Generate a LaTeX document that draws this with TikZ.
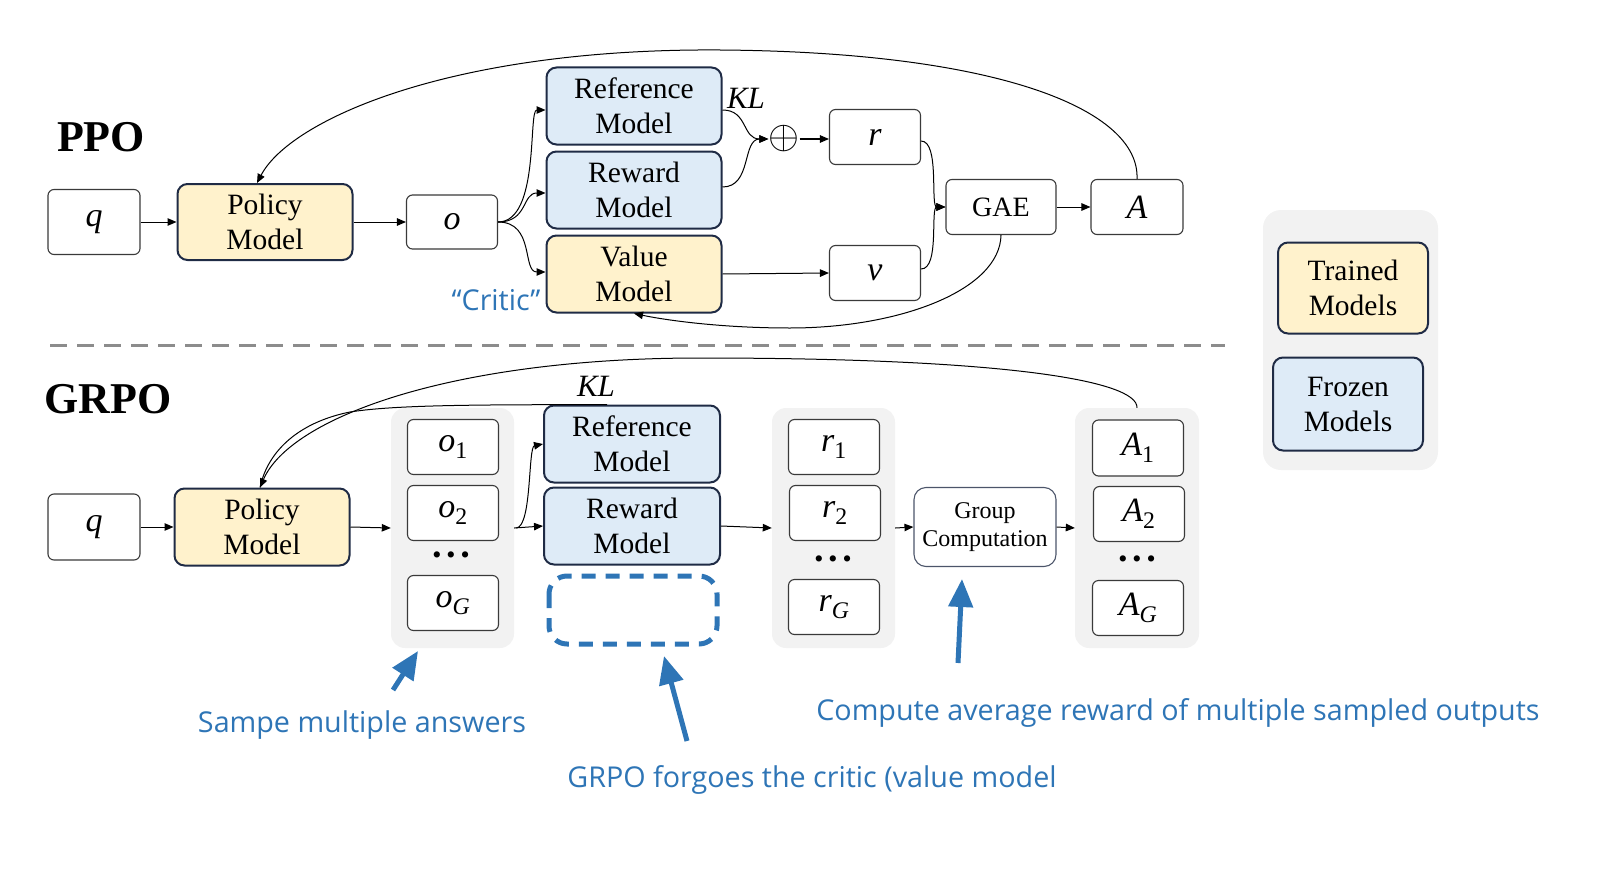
\documentclass[tikz,border=0pt]{standalone}
\usepackage{graphicx}
\usepackage{fontspec}
\setmainfont{Liberation Serif}
\newfontfamily\annfont{Open Sans}
\usetikzlibrary{arrows.meta}
\definecolor{trainfill}{HTML}{FFF2CC}
\definecolor{frozfill}{HTML}{DEEBF7}
\definecolor{navy}{HTML}{1F2B45}
\definecolor{annblue}{HTML}{2E75B6}
\definecolor{panelgray}{HTML}{F2F2F2}
\definecolor{dashgray}{HTML}{8C8C8C}
\definecolor{boxgray}{HTML}{3A3A3A}
\newcommand\modelfs{\fontsize{29.5}{35}\selectfont}
\newcommand\lettfs{\fontsize{34}{34}\selectfont\itshape}
\newcommand\annfs{\annfont\fontsize{28.7}{32}\selectfont}
\newcommand\threedots{\textbullet\hspace{5pt}\textbullet\hspace{5pt}\textbullet}
\begin{document}
\begin{tikzpicture}[x=1pt,y=-1pt,
 plainbox/.style={draw=boxgray,line width=1.1pt,rounded corners=6pt,fill=white,minimum width=92pt,minimum height=55pt,inner sep=0pt,font=\lettfs},
 model/.style={draw=navy,line width=2pt,rounded corners=10pt,minimum width=175pt,minimum height=77pt,inner sep=0pt,align=center,font=\modelfs},
 trained/.style={model,fill=trainfill},
 frozen/.style={model,fill=frozfill},
 panel/.style={fill=panelgray,draw=none,rounded corners=14pt,minimum width=123pt,minimum height=240pt,inner sep=0pt},
 arr/.style={line width=1pt,-{Triangle[length=9pt,width=7.5pt]}},
 link/.style={line width=1pt},
 bigarr/.style={draw=annblue,line width=5pt,-{Triangle[length=28pt,width=24pt]}},
 ann/.style={text=annblue,font=\annfs,inner sep=0pt},
 dotsnode/.style={font=\fontsize{26}{26}\selectfont,inner sep=0pt},
 title/.style={font=\fontsize{44}{44}\selectfont\bfseries,inner sep=0pt}
]
\useasboundingbox (0,0) rectangle (1600,872);

% ---------------- PPO ----------------
\node[title] (tppo) at (101,137) {PPO};
\node[plainbox,minimum height=65pt] (pq) at (94,222) {q};
\node[trained,minimum height=76pt] (ppol) at (265,222) {Policy\\Model};
\node[plainbox,minimum width=91pt,minimum height=54pt] (po) at (452,222) {o};
\node[frozen] (pref) at (634,106) {Reference\\Model};
\node[frozen] (prew) at (634,190) {Reward\\Model};
\node[trained] (pval) at (634,274) {Value\\Model};
\node[ann] (critic) at (496,300) {“Critic”};
\node[font=\fontsize{31}{31}\selectfont\itshape,inner sep=0pt] (pkl) at (746,98) {KL};
\node[font=\fontsize{24.88}{24.88}\selectfont,inner sep=0pt] (pplus) at (784,139) {\scalebox{1.6}{$\oplus$}};
\node[plainbox,minimum width=91pt] (pr) at (875,137) {r};
\node[plainbox,minimum width=91pt] (pv) at (875,273) {v};
\node[plainbox,minimum width=110pt,font=\fontsize{28}{28}\selectfont] (pgae) at (1001,207) {GAE};
\node[plainbox] (pA) at (1137,207) {A};

\draw[arr] (pq.east) -- (ppol.west);
\draw[arr] (ppol.east) -- (po.west);
\draw[arr] (po.east) .. controls (540,222) and (528,110) .. ([yshift=-4pt]pref.west);
\draw[arr] (po.east) .. controls (528,222) and (522,193) .. ([yshift=-3pt]prew.west);
\draw[arr] (po.east) .. controls (535,222) and (522,272) .. ([yshift=2pt]pval.west);
\draw[arr] ([yshift=-4pt]pref.east) .. controls (748,110) and (742,139) .. (pplus.west);
\draw[arr] ([yshift=3pt]prew.east) .. controls (752,187) and (742,139) .. (pplus.west);
\draw[arr] (pplus.east) -- (pr.west |- pplus.east);
\draw[arr] ([yshift=-4pt]pr.east) .. controls (940,141) and (930,207) .. (pgae.west);
\draw[arr] ([yshift=4pt]pv.east) .. controls (940,269) and (930,207) .. (pgae.west);
\draw[arr] (pval.east) -- (pv.west);
\draw[arr] (pgae.east) -- (pA.west);
\draw[arr] (pA.north) .. controls (1140,110) and (1000,52) .. (720,50) .. controls (450,48) and (290,120) .. ([xshift=-8pt]ppol.north);
\draw[arr] (pgae.south) .. controls (1000,290) and (900,328) .. (790,328) .. controls (720,328) and (665,320) .. (pval.south);

% ---------------- separator ----------------
\draw[dashgray,line width=3pt,dash pattern=on 17pt off 10pt] (50,345) -- (1225,345);

% ---------------- GRPO ----------------
\node[title] (tgrpo) at (108,399) {GRPO};
\node[panel] (gop) at (452.5,528) {};
\node[panel] (grp) at (833.5,528) {};
\node[panel,minimum width=124pt] (gap) at (1137,528) {};

\node[plainbox,minimum height=66pt] (gq) at (94,527) {q};
\node[trained] (gpol) at (262,527) {Policy\\Model};
\node[plainbox,minimum width=91pt] (go1) at (453,447) {o\textsubscript{\upshape 1}};
\node[plainbox,minimum width=91pt] (go2) at (453,513) {o\textsubscript{\upshape 2}};
\node[dotsnode] (god) at (451,558) {\threedots};
\node[plainbox,minimum width=91pt] (goG) at (453,603) {o\textsubscript{G}};
\node[frozen,minimum width=176pt] (gref) at (632,444) {Reference\\Model};
\node[frozen,minimum width=176pt] (grew) at (632,526) {Reward\\Model};
\draw[annblue,line width=5pt,rounded corners=18pt,dash pattern=on 14pt off 10pt] (549,576) rectangle (717,644);
\node[font=\fontsize{31}{31}\selectfont\itshape,inner sep=0pt] (gkl) at (596,386) {KL};
\node[plainbox,minimum width=91pt] (gr1) at (834,447) {r\textsubscript{\upshape 1}};
\node[plainbox,minimum width=91pt] (gr2) at (835,513) {r\textsubscript{\upshape 2}};
\node[dotsnode] (grd) at (833,562) {\threedots};
\node[plainbox,minimum width=91pt] (grG) at (834,607) {r\textsubscript{G}};
\node[plainbox,draw=navy!80,minimum width=142pt,minimum height=79pt,rounded corners=12pt,align=center,font=\fontsize{24}{28}\selectfont\upshape] (ggc) at (985,527) {Group\\Computation};
\node[plainbox,minimum width=91pt,minimum height=56pt] (gA1) at (1138,448) {A\textsubscript{\upshape 1}};
\node[plainbox,minimum width=91pt] (gA2) at (1139,514) {A\textsubscript{\upshape 2}};
\node[dotsnode] (gAd) at (1137,562) {\threedots};
\node[plainbox,minimum width=91pt] (gAG) at (1138,608) {A\textsubscript{G}};

\draw[arr] (gq.east) -- (gpol.west);
\draw[arr] (gpol.east) -- (gop.west);
\draw[arr] (gop.east) -- (grew.west);
\draw[arr] ([xshift=2pt]gop.east) .. controls (532,527) and (528,447) .. (gref.west);
\draw[arr] (grew.east) -- (grp.west);
\draw[arr] (grp.east) -- (ggc.west);
\draw[arr] (ggc.east) -- (gap.west);
\draw[link] ([xshift=-25pt]gref.north) .. controls (500,405) and (400,404) .. (350,412) .. controls (300,422) and (268,450) .. ([xshift=-2pt]gpol.north);
\draw[arr] (gap.north) .. controls (1138,380) and (1000,358) .. (700,358) .. controls (450,358) and (290,418) .. ([xshift=-2pt]gpol.north);

% ---------------- legend ----------------
\node[fill=panelgray,rounded corners=18pt,minimum width=175pt,minimum height=260pt,inner sep=0pt] (leg) at (1350.5,340) {};
\node[trained,minimum width=150pt,minimum height=91pt] (ltr) at (1353,288) {Trained\\Models};
\node[frozen,minimum width=150pt,minimum height=93pt] (lfr) at (1348,404) {Frozen\\Models};

% ---------------- annotations ----------------
\coordinate (a1s) at (393,690);
\coordinate (a1e) at (418,651);
\coordinate (a2s) at (687,741);
\coordinate (a2e) at (664,656);
\coordinate (a3s) at (958,663);
\coordinate (a3e) at (962,579);
\draw[bigarr] (a1s) -- (a1e);
\draw[bigarr] (a2s) -- (a2e);
\draw[bigarr] (a3s) -- (a3e);
\node[ann] (t1) at (362,725) {Sampe multiple answers};
\node[ann] (t2) at (812,780) {GRPO forgoes the critic (value model};
\node[ann] (t3) at (1178,713) {Compute average reward of multiple sampled outputs};
\end{tikzpicture}
\end{document}
